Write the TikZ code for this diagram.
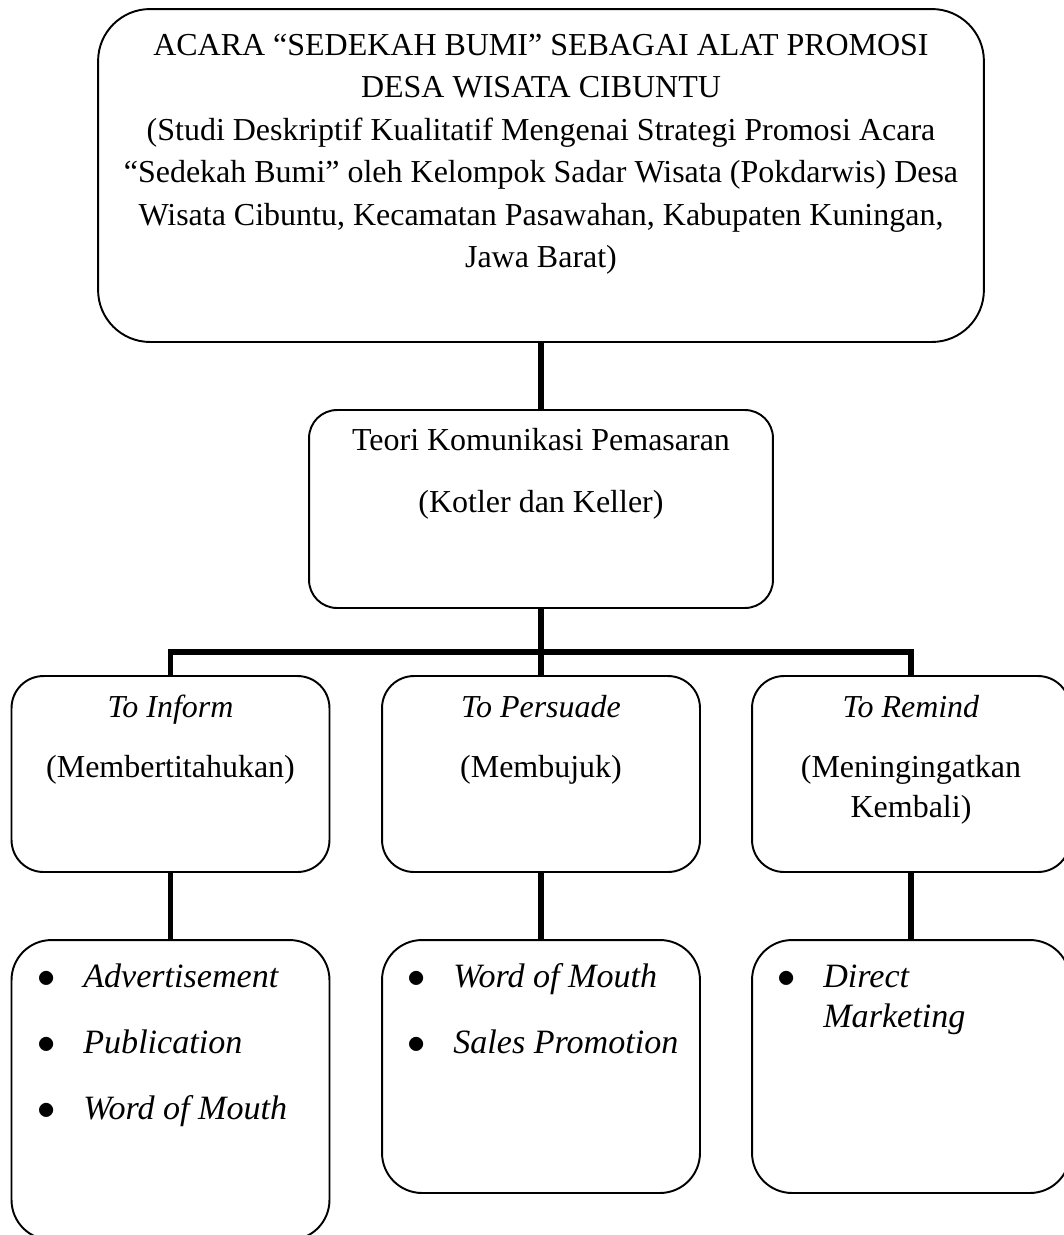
\documentclass[tikz,border=0pt]{standalone}
\usepackage{fontspec}
\setmainfont{Liberation Serif}
\newcommand{\itembul}{\makebox[0.92cm][l]{$\bullet$}}

\begin{document}
\begin{tikzpicture}[x=0.02cm, y=-0.02cm,
        box/.style={draw=black, line width=1.1pt, inner sep=0pt, rounded corners=#1},
        upper/.style={minimum width=6.36cm, minimum height=3.92cm},
        lower/.style={minimum width=6.36cm, minimum height=5.06cm},
        txt/.style={inner sep=0pt, anchor=base, align=flush center, font=\fontsize{18.2}{24.2}\selectfont},
        items/.style={inner sep=0pt, anchor=base west, align=flush left, text width=5.8cm, font=\fontsize{19.4}{22.8}\selectfont\itshape},
        link/.style={line width=3.2pt, black}
    ]
        \useasboundingbox (0, 0) rectangle (1063, 1235);

        % Title & theory
        \node[box=1.04cm, minimum width=17.72cm, minimum height=6.66cm] (title) at (541, 175.5) {};
        \node[txt, text width=18cm] (titleText) at (541, 55) {ACARA “SEDEKAH BUMI” SEBAGAI ALAT PROMOSI\\DESA WISATA CIBUNTU\\(Studi Deskriptif Kualitatif Mengenai Strategi Promosi Acara\\“Sedekah Bumi” oleh Kelompok Sadar Wisata (Pokdarwis) Desa\\Wisata Cibuntu, Kecamatan Pasawahan, Kabupaten Kuningan,\\Jawa Barat)};

        \node[box=0.56cm, minimum width=9.28cm, minimum height=3.96cm] (theory) at (541, 509) {};
        \node[txt, text width=9cm, font=\fontsize{18.2}{35.3}\selectfont] (theoryText) at (541, 450) {Teori Komunikasi Pemasaran\\(Kotler dan Keller)};

        % Objectives
        \node[box=0.64cm, upper] (inform) at (170.5, 774) {};
        \node[txt, text width=6cm, font=\fontsize{18.2}{22.8}\selectfont] (informText) at (170.5, 717) {\textit{To Inform}\\[0.4cm](Membertitahukan)};

        \node[box=0.64cm, upper] (persuade) at (541, 774) {};
        \node[txt, text width=6cm, font=\fontsize{18.2}{22.8}\selectfont] (persuadeText) at (541, 717) {\textit{To Persuade}\\[0.4cm](Membujuk)};

        \node[box=0.64cm, upper] (remind) at (911, 774) {};
        \node[txt, text width=6cm, font=\fontsize{18.2}{22.8}\selectfont] (remindText) at (911, 717) {\textit{To Remind}\\[0.4cm](Meningingatkan\\Kembali)};

        % Promotion tools
        \node[box=0.8cm, lower, minimum height=6cm] (informTools) at (170.5, 1090) {};
        \node[items] (informItems) at (37, 987) {\itembul Advertisement\\[0.52cm]\itembul Publication\\[0.52cm]\itembul Word of Mouth};

        \node[box=0.8cm, lower] (persuadeTools) at (541, 1066.5) {};
        \node[items] (persuadeItems) at (407, 987) {\itembul Word of Mouth\\[0.52cm]\itembul Sales Promotion};

        \node[box=0.8cm, lower] (remindTools) at (911, 1066.5) {};
        \node[items] (remindItems) at (777, 987) {\itembul Direct\\\hspace*{0.92cm}Marketing};

        % Connections
        \coordinate (fork) at (541, 652);
        \draw[link] (title.south) -- (theory.north);
        \draw[link] (theory.south) -- (persuade.north);
        \draw[link] (inform.north) |- (fork) -| (remind.north);
        \draw[link] (inform.south) -- (informTools.north);
        \draw[link] (persuade.south) -- (persuadeTools.north);
        \draw[link] (remind.south) -- (remindTools.north);
    \end{tikzpicture}
\end{document}
